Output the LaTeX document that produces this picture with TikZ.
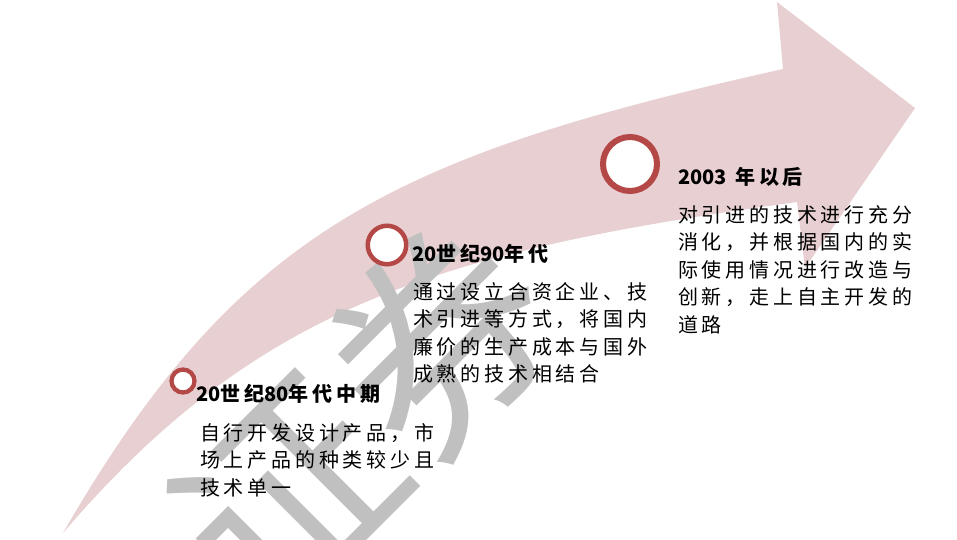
\documentclass[tikz,border=0pt]{standalone}
\usepackage{fontspec}
\newfontfamily\cjk[LetterSpace=19]{Noto Sans CJK SC}
\newfontfamily\cjknum{Noto Sans CJK SC}
\definecolor{arrowpink}{RGB}{232,207,209}
\definecolor{dotred}{RGB}{180,72,70}
\definecolor{markgray}{RGB}{192,192,192}

\begin{document}
\begin{tikzpicture}[x = 1pt, y = -1pt,
    stagedot/.style = {circle, draw = dotred, fill = white, inner sep = 0pt},
    stagehead/.style = {anchor = west, inner sep = 0pt, font = \cjk\bfseries\fontsize{20}{24}\selectfont},
    stagetext/.style = {anchor = north west, inner sep = 0pt, align = left, font = \cjk\fontsize{20}{27.5}\selectfont}]
    \useasboundingbox (0,0) rectangle (957,539);
    \clip (0,0) rectangle (957,539);
    % the big arrow
    \fill[arrowpink] (63,533) .. controls (238,230) and (393,156) .. (783,69)
        -- (777,2) -- (915,108) -- (805,268) -- (797,202)
        .. controls (441,251) and (258,305) .. (63,533) -- cycle;
    % watermark
    \node[markgray, rotate = 45, font = \cjknum\fontsize{215}{215}\selectfont] (mark) at (362,416) {证券};
    % stages
    \node[stagedot, minimum size = 23pt, line width = 4.3pt] (d1) at (183,381) {};
    \node[stagedot, minimum size = 38.5pt, line width = 4.5pt] (d2) at (387,245) {};
    \node[stagedot, minimum size = 54pt, line width = 6pt] (d3) at (630,164) {};
    \node[stagehead] (h1) at (196,394) {{\cjknum 20}世纪{\cjknum 80}年代中期};
    \node[stagehead] (h2) at (412,254) {{\cjknum 20}世纪{\cjknum 90}年代};
    \node[stagehead] (h3) at (678,177) {{\cjknum 2003} 年以后};
    \node[stagetext] (t1) at (200,423) {自行开发设计产品，市\\场上产品的种类较少且\\技术单一};
    \node[stagetext] (t2) at (413,282) {通过设立合资企业、技\\术引进等方式，将国内\\廉价的生产成本与国外\\成熟的技术相结合};
    \node[stagetext] (t3) at (678,205) {对引进的技术进行充分\\消化，并根据国内的实\\际使用情况进行改造与\\创新，走上自主开发的\\道路};
\end{tikzpicture}
\end{document}
